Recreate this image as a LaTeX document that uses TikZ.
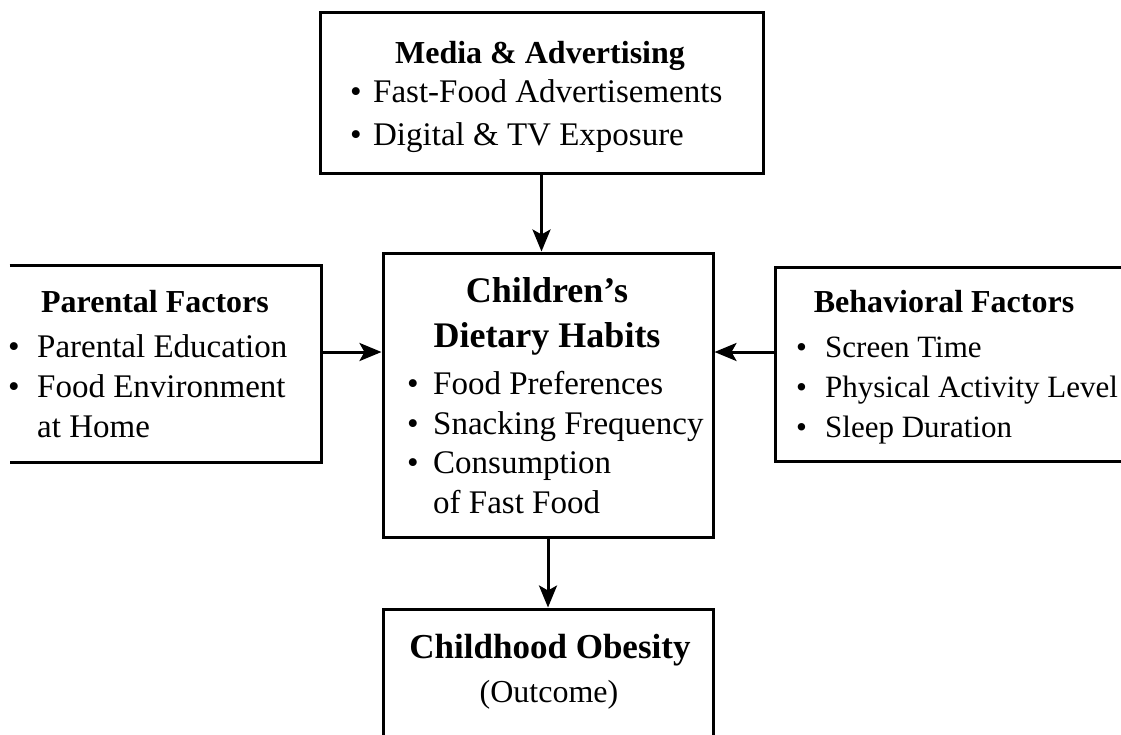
\documentclass[tikz,border=0pt]{standalone}
\usepackage{fontspec}
\setmainfont{Liberation Serif}
\usetikzlibrary{arrows.meta,fit}
\begin{document}
\begin{tikzpicture}[x=1pt,y=-1pt,
  box/.style={draw, line width=3pt, rectangle, inner sep=0pt},
  hidebox/.style={rectangle, inner sep=0pt, line width=3pt},
  arr/.style={line width=3pt, -{Stealth[length=22pt,width=18pt,inset=5pt]}},
  txt/.style={anchor=base west, inner sep=0pt, font=\fontsize{33}{40}\selectfont},
  txtr/.style={anchor=base west, inner sep=0pt, font=\fontsize{31}{40}\selectfont},
  txtb/.style={anchor=base, inner sep=0pt, font=\fontsize{32}{40}\selectfont},
  hd/.style={anchor=base, inner sep=0pt, font=\bfseries\fontsize{32}{40}\selectfont},
  hdc/.style={anchor=base, inner sep=0pt, font=\bfseries\fontsize{36}{44}\selectfont},
  hdo/.style={anchor=base, inner sep=0pt, font=\bfseries\fontsize{35}{44}\selectfont}]
\useasboundingbox (0,0) rectangle (1121,734);
\clip (0,0) rectangle (1121,734);
\fill[white] (0,0) rectangle (1121,734);

% boxes
\node[box, fit={(320,12) (763,173)}] (media) {};
\node[hidebox, fit={(11,267) (320,461)}] (lbox) {};
\draw[line width=3pt] (lbox.north west) -| (lbox.south east) -- (lbox.south west);
\node[box, fit={(383,253) (713,537)}] (cbox) {};
\node[box, fit={(775,267) (1140,461)}] (rbox) {};
\node[box, fit={(383,609) (713,760)}] (obox) {};

% media text
\node[hd] (mh) at (540,63) {Media \& Advertising};
\node[txt] (m1) at (350,102) {\makebox[23pt][l]{•}Fast-Food Advertisements};
\node[txt] (m2) at (350,145) {\makebox[23pt][l]{•}Digital \& TV Exposure};

% left text
\node[hd] (lh) at (155,312) {Parental Factors};
\node[txt] (l1) at (8,357) {\makebox[29pt][l]{•}Parental Education};
\node[txt] (l2) at (8,397) {\makebox[29pt][l]{•}Food Environment};
\node[txt] (l3) at (37,437) {at Home};

% right text
\node[hd] (rh) at (944,312) {Behavioral Factors};
\node[txtr] (r1) at (796,357) {\makebox[29pt][l]{•}Screen Time};
\node[txtr] (r2) at (796,397) {\makebox[29pt][l]{•}Physical Activity Level};
\node[txtr] (r3) at (796,437) {\makebox[29pt][l]{•}Sleep Duration};

% center text
\node[hdc] (ch1) at (547,302) {Children’s};
\node[hdc] (ch2) at (547,347) {Dietary Habits};
\node[txt] (c1) at (407,394) {\makebox[26pt][l]{•}Food Preferences};
\node[txt] (c2) at (407,434) {\makebox[26pt][l]{•}Snacking Frequency};
\node[txt] (c3) at (407,473) {\makebox[26pt][l]{•}Consumption};
\node[txt] (c4) at (433,513) {of Fast Food};

% outcome text
\node[hdo] (oh) at (550,658) {Childhood Obesity};
\node[txtb] (o1) at (549,702) {(Outcome)};

% connectors
\coordinate (ay) at (0,352);
\draw[arr] (media.south) -- (media.south |- cbox.north);
\draw[arr] (lbox.east |- ay) -- (cbox.west |- ay);
\draw[arr] (rbox.west |- ay) -- (cbox.east |- ay);
\draw[arr] (cbox.south) -- (obox.north);
\end{tikzpicture}
\end{document}
